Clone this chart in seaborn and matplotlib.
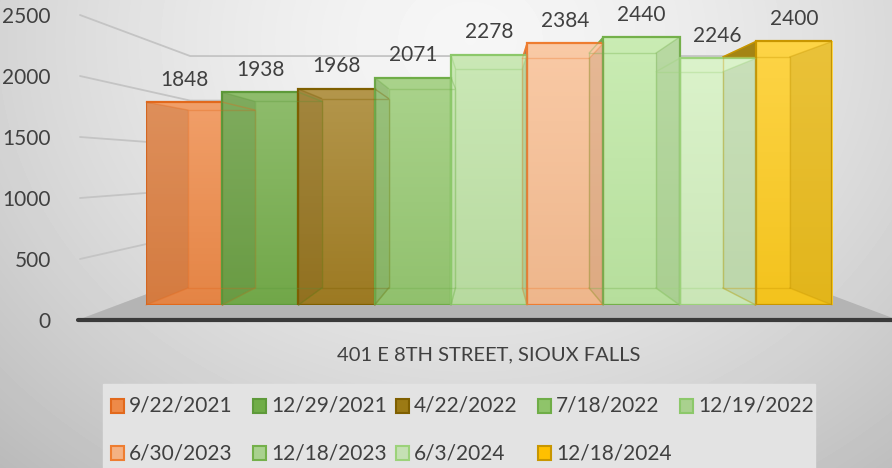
import numpy as np
import matplotlib
matplotlib.use('Agg')
import matplotlib.pyplot as plt
import matplotlib.colors as mcolors
import seaborn as sns
from matplotlib.patches import Polygon, Rectangle

# data
address = '401 E 8TH STREET, SIOUX FALLS'
dates = ['9/22/2021', '12/29/2021', '4/22/2022', '7/18/2022', '12/19/2022',
         '6/30/2023', '12/18/2023', '6/3/2024', '12/18/2024']
values = [1848, 1938, 1968, 2071, 2278, 2384, 2440, 2246, 2400]
face_colors = ['#EE8A48', '#76AE4C', '#A37F24', '#97C972', '#BFE3A6',
               '#F8BE92', '#BEE8A3', '#D3F0BF', '#FDCB1E']
edge_colors = ['#E2691C', '#5E9A3A', '#7F5F00', '#6FAD47', '#8CC86A',
               '#EE7D31', '#74B04A', '#9CD27A', '#C89600']
legend_colors = ['#EE8A48', '#70AD47', '#9C7A14', '#8FC46A', '#A9D18E',
                 '#F4B183', '#A9D18E', '#C5E0B4', '#FFC000']
wall_ticks = [0, 500, 1000, 1500, 2000, 2500]

sns.set_theme(style='white')
plt.rcParams['font.family'] = ['Lato', 'DejaVu Sans']
txt_color = '#404040'

W, H = 892, 468
fig = plt.figure(figsize=(W / 100, H / 100), dpi=100)

# fake perspective: everything shrinks toward this point (pixels, from top-left)
VP = (488, 167)


def persp(p, s):
    return (VP[0] + (p[0] - VP[0]) * s, VP[1] + (p[1] - VP[1]) * s)


def to_px(ax, x, y):
    d = ax.transData.transform((x, y))
    return d[0], H - d[1]


def mix(c, other, t):
    a = np.array(mcolors.to_rgb(c))
    b = np.array(mcolors.to_rgb(other))
    return tuple(a + (b - a) * t)


# background in pixel coords
ax_bg = fig.add_axes([0, 0, 1, 1], zorder=0)
yy, xx = np.mgrid[0:H, 0:W]
d = np.sqrt(((xx - 470) / 620) ** 2 + ((yy - 40) / 520) ** 2)
shade = np.clip(0.965 - 0.2 * d ** 1.5, 0, 1)
ax_bg.imshow(shade, cmap='gray', vmin=0, vmax=1, extent=(0, W, H, 0), aspect='auto')
ax_bg.set_xlim(0, W)
ax_bg.set_ylim(H, 0)
ax_bg.axis('off')

# value axis on the "wall"
ax_wall = fig.add_axes([80 / W, 1 - 320 / H, 1 / W, 305 / H], zorder=1)
ax_wall.set_ylim(0, 2500)
ax_wall.set_yticks(wall_ticks)
ax_wall.set_xticks([])
ax_wall.tick_params(axis='y', length=0, pad=21, labelsize=15, labelcolor=txt_color)
for sp in ax_wall.spines.values():
    sp.set_visible(False)
ax_wall.patch.set_alpha(0)

for t in wall_ticks:
    x0, y0 = to_px(ax_wall, 0, t)
    p_back = persp((x0, y0), 0.73)
    p_right = persp((896, y0), 0.73)
    ax_bg.plot([x0, p_back[0], p_right[0]], [y0, p_back[1], p_right[1]],
               color='#c4c4c4', lw=1.3, zorder=2)

# floor
fl = [(80, 320), (896, 320), persp((896, 320), 0.73), persp((80, 320), 0.73)]
ax_bg.add_patch(Polygon(fl, closed=True, color='#b4b4b4', zorder=3))
ax_bg.plot([78, 892], [320, 320], color='#3a3a3a', lw=3, zorder=4, solid_capstyle='round')

# bars
ax = fig.add_axes([146 / W, 1 - 305 / H, (832 - 146) / W, 274.5 / H], zorder=2)
ax.patch.set_alpha(0)
sns.barplot(x=[address] * len(values), y=values, hue=dates, hue_order=dates,
            palette=face_colors, width=1, saturation=1, legend=False, ax=ax)
ax.set_yticks([])
ax.set_xlabel('')
ax.set_ylabel('')
for sp in ax.spines.values():
    sp.set_visible(False)
ax.tick_params(axis='x', length=0, pad=30, labelsize=14.5, labelcolor=txt_color)

ax_top = fig.add_axes([0, 0, 1, 1], zorder=3)
ax_top.set_xlim(0, W)
ax_top.set_ylim(H, 0)
ax_top.axis('off')

ax.set_xlim(-0.5, 0.5)
ax.set_ylim(0, 2500)

for i, cont in enumerate(ax.containers):
    bar = cont[0]
    x0, y0 = bar.get_x(), bar.get_y()
    x1, y1 = x0 + bar.get_width(), y0 + bar.get_height()
    # vertical gradient fill clipped to the bar
    col = face_colors[i]
    grad = np.linspace(0, 1, 64)[:, None, None]
    top_c = np.array(mix(col, 'white', 0.18))
    bot_c = np.array(mix(col, 'black', 0.04))
    img = top_c * (1 - grad) + bot_c * grad
    im = ax.imshow(img, extent=(x0, x1, y0, y1), aspect='auto', origin='upper',
                   zorder=bar.get_zorder() - 0.01)
    im.set_clip_path(bar)
    bar.set_facecolor('none')
    bar.set_edgecolor(edge_colors[i])
    bar.set_linewidth(1.6)

    lx, by = to_px(ax, x0, y0)
    rx, ty = to_px(ax, x1, y1)
    front = [(lx, ty), (rx, ty), (rx, by), (lx, by)]
    back = [persp(p, 0.877) for p in front]
    left = [front[0], back[0], back[3], front[3]]
    right = [front[1], back[1], back[2], front[2]]
    center = (lx + rx) / 2
    inner, outer = (left, right) if center < VP[0] else (right, left)
    # outer side face sits behind the neighbours
    ax_bg.add_patch(Polygon(outer, closed=True, facecolor=mix(col, 'black', 0.35),
                            edgecolor=edge_colors[i], lw=1, zorder=5))
    # inner side face seen through the front
    ax_top.add_patch(Polygon(inner, closed=True, facecolor=mix(col, 'black', 0.3),
                             edgecolor='none', alpha=0.25))
    # back edges seen through the bar
    ax_top.add_patch(Polygon(back, closed=True, fill=False,
                             edgecolor=edge_colors[i], lw=1, alpha=0.35))
    for a, b in zip(front, back):
        ax_top.plot([a[0], b[0]], [a[1], b[1]], color=edge_colors[i], lw=1, alpha=0.35)
    ax.bar_label(cont, labels=[str(values[i])], padding=9, fontsize=15, color=txt_color)

ax.set_xlim(-0.5, 0.5)
ax.set_ylim(0, 2500)

# legend
ax_bg.add_patch(Rectangle((103, 384), 712, 90, color='#e3e3e3', zorder=6))
for i, lab in enumerate(dates):
    row, col = divmod(i, 5)
    mx = 111 + col * 142.3
    my = 406 + row * 47
    ax_bg.add_patch(Rectangle((mx, my - 7), 13, 14, facecolor=legend_colors[i],
                              edgecolor=edge_colors[i], lw=1.5, zorder=7))
    ax_bg.text(mx + 18, my, lab, fontsize=15, color=txt_color, va='center',
               ha='left', zorder=7)

fig.savefig('out.png', dpi=100)
